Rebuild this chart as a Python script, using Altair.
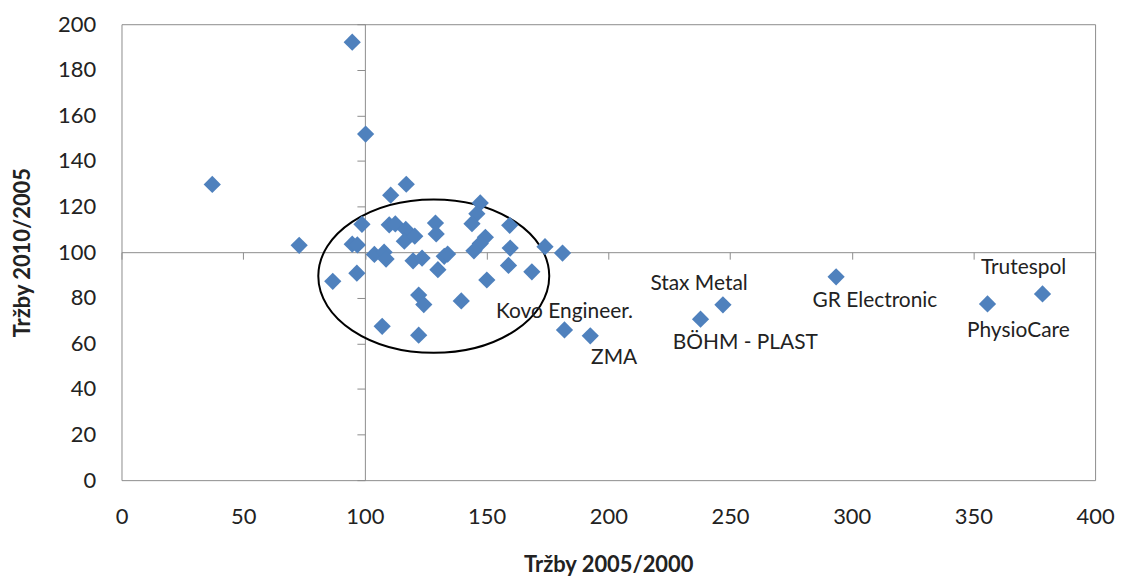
import altair as alt
import pandas as pd

# ---- data ----
X_VALUES = [37.3, 94.8, 100.3, 73.0, 86.8, 94.8, 96.9, 96.7, 98.8, 107.1,
            110.6, 117.0, 103.9, 107.9, 108.7, 110.0, 112.5, 116.8, 116.2, 120.5,
            119.8, 123.5, 129.0, 129.3, 130.0, 132.6, 134.0, 122.1, 124.2, 139.6,
            122.1, 147.4, 146.0, 144.0, 149.5, 147.4, 144.8, 159.5, 159.7, 159.0,
            150.1, 168.6, 174.0, 181.2, 182.0, 192.6, 237.9, 247.1, 293.6, 355.8,
            378.4]
Y_VALUES = [129.7, 192.1, 151.8, 103.0, 87.2, 103.5, 103.2, 90.8, 112.2, 67.5,
            125.0, 129.8, 99.0, 100.0, 97.0, 112.0, 112.4, 110.0, 104.8, 107.0,
            96.2, 97.4, 112.8, 108.0, 92.3, 98.2, 99.2, 81.2, 77.0, 78.6,
            63.6, 121.6, 116.9, 112.5, 106.5, 103.8, 100.6, 111.8, 101.8, 94.2,
            87.8, 91.4, 102.4, 99.6, 65.9, 63.3, 70.6, 76.9, 89.2, 77.3,
            81.7]
NAMES = [""] * 44 + ["Kovo Engineer.", "ZMA", "BÖHM - PLAST", "Stax Metal",
                     "GR Electronic", "PhysioCare", "Trutespol"]

X_TICKS = [0, 50, 100, 150, 200, 250, 300, 350, 400]
Y_TICKS = [0, 20, 40, 60, 80, 100, 120, 140, 160, 180, 200]
X_DOMAIN = [0, 400]
Y_DOMAIN = [0, 200]
X_TITLE = "Tržby 2005/2000"
Y_TITLE = "Tržby 2010/2005"

ELLIPSE_X = [128.3]
ELLIPSE_Y = [89.5]

# ---- styling ----
W, H = 978, 458
GRAY = "#8c8c8c"
TXT = "#222222"
BLUE = "#4F81BD"
FONT = "Lato"

LABEL_OFFSETS = {
    "Kovo Engineer.": (0, -18),
    "ZMA": (24, 22),
    "Stax Metal": (-24, -21),
    "BÖHM - PLAST": (45, 24),
    "GR Electronic": (39, 24),
    "Trutespol": (-19, -26),
    "PhysioCare": (31, 27),
}

ELLIPSE_PATH = "M -1 0 A 1 0.664 0 1 1 1 0 A 1 0.664 0 1 1 -1 0 Z"
ELLIPSE_SIZE = (2 * 116) ** 2

df = pd.DataFrame({"x": X_VALUES, "y": Y_VALUES, "name": NAMES})
ell = pd.DataFrame({"x": ELLIPSE_X, "y": ELLIPSE_Y})

xs = alt.Scale(domain=X_DOMAIN, nice=False, zero=False)
ys = alt.Scale(domain=Y_DOMAIN, nice=False, zero=False)

x_label_axis = alt.Axis(values=X_TICKS, orient="bottom", domain=False, ticks=False, tickSize=0,
                        grid=False, labelFont=FONT, labelFontSize=22, labelColor=TXT,
                        labelPadding=27, labelFlush=False, labelOverlap=False,
                        title=X_TITLE, titleFont=FONT, titleFontWeight="bold",
                        titleFontSize=22, titleColor=TXT, titlePadding=27)
y_label_axis = alt.Axis(values=Y_TICKS, orient="left", domain=False, ticks=False, tickSize=0,
                        grid=False, labelFont=FONT, labelFontSize=22, labelColor=TXT,
                        labelPadding=26, labelFlush=False, labelOverlap=False,
                        title=Y_TITLE, titleFont=FONT, titleFontWeight="bold",
                        titleFontSize=22, titleColor=TXT, titlePadding=23)

x_cross_axis = alt.Axis(values=X_TICKS, orient="bottom", offset=-H / 2, domain=True,
                        domainColor=GRAY, domainWidth=1, ticks=True, tickColor=GRAY,
                        tickSize=7, tickWidth=1, labels=False, grid=False, title=None)
y_cross_axis = alt.Axis(values=Y_TICKS, orient="left", offset=-W * 100 / 400, domain=True,
                        domainColor=GRAY, domainWidth=1, ticks=True, tickColor=GRAY,
                        tickSize=8, tickWidth=1, labels=False, grid=False, title=None)

points = alt.Chart(df).mark_point(
    shape="diamond", filled=True, color=BLUE, size=300, opacity=1
).encode(
    x=alt.X("x:Q", scale=xs, axis=x_label_axis),
    y=alt.Y("y:Q", scale=ys, axis=y_label_axis),
)

ellipse = alt.Chart(ell).mark_point(
    shape=ELLIPSE_PATH, filled=False, stroke="black", strokeWidth=2,
    size=ELLIPSE_SIZE, opacity=1
).encode(
    x=alt.X("x:Q", scale=xs, axis=x_cross_axis),
    y=alt.Y("y:Q", scale=ys, axis=y_cross_axis),
)

layers = [ellipse, points]
for nm, (dx, dy) in LABEL_OFFSETS.items():
    layers.append(
        alt.Chart(df).transform_filter(alt.datum.name == nm).mark_text(
            dx=dx, dy=dy, font=FONT, fontSize=21, color=TXT, align="center", baseline="middle"
        ).encode(
            x=alt.X("x:Q", scale=xs, axis=None),
            y=alt.Y("y:Q", scale=ys, axis=None),
            text="name:N",
        )
    )

chart = alt.layer(*layers).resolve_axis(x="independent", y="independent").properties(
    width=W, height=H,
    autosize=alt.AutoSizeParams(type="none"),
    padding={"left": 114, "top": 15, "right": 20, "bottom": 97},
    background="white",
).configure_view(stroke=GRAY, strokeWidth=1)

chart.save("out.html", embed_options={"renderer": "svg", "actions": False})
